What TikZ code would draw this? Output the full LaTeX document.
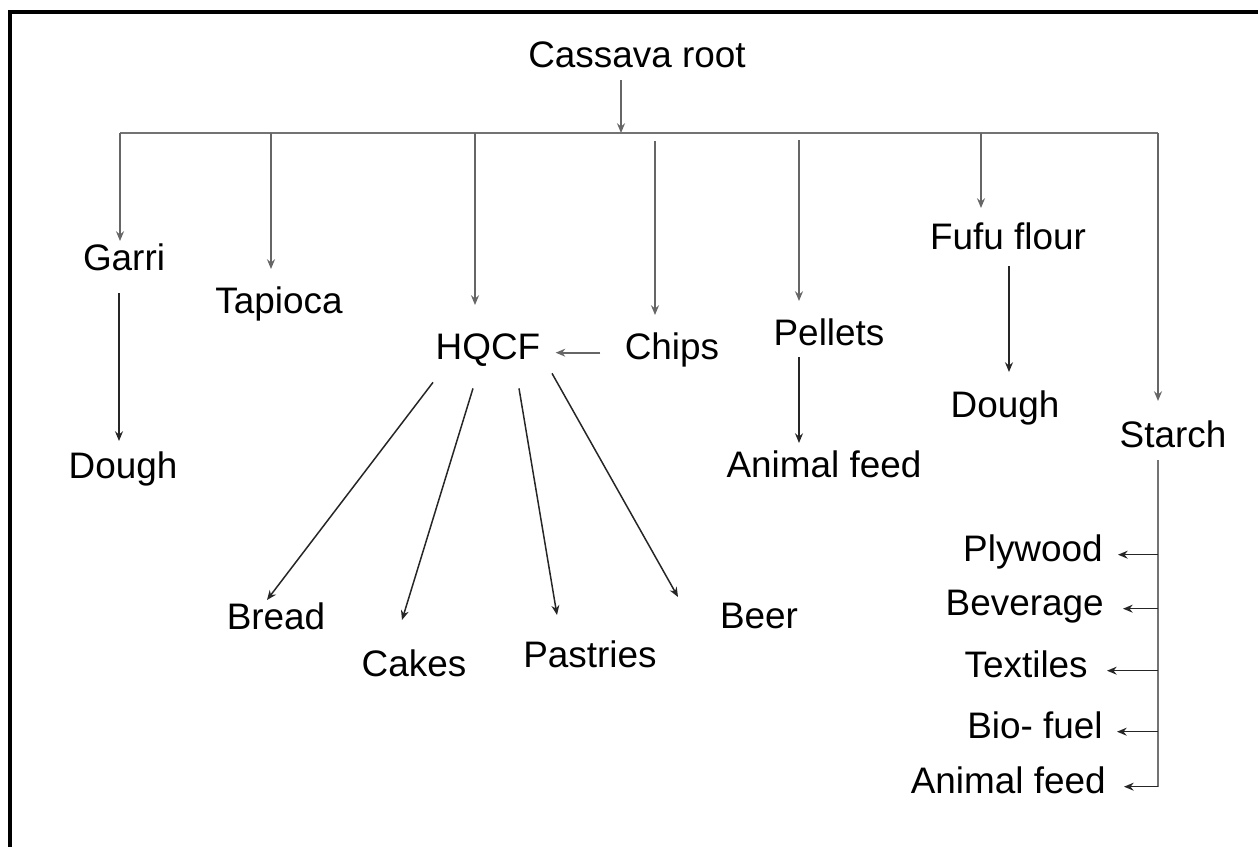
\documentclass[tikz,border=0pt]{standalone}
\usepackage{fontspec}
\setmainfont{Liberation Sans}
\usetikzlibrary{arrows.meta,positioning,calc}

\begin{document}
\begin{tikzpicture}[x=0.02cm,y=-0.02cm,
   lbl/.style={font=\fontsize{21}{25}\selectfont,inner sep=0pt,
               text height=0.72em,text depth=0pt,anchor=base},
   side/.style={lbl,anchor=base east},
   arr/.style={draw=black!85,line width=0.85pt,-{Stealth[length=5.5pt,width=4.5pt]}},
   drop/.style={arr,draw=black!60,line width=1.1pt},
   bus/.style={draw=black!55,line width=1.5pt,line join=miter}]
  \useasboundingbox (0,0) rectangle (1258,846);
  \clip (0,0) rectangle (1258,846);
  % frame, cut off on the right and at the bottom
  \draw[line width=2.1pt] (10,900) -- (10,12) -- (1300,12);

  % labels
  \node[lbl] (root) at (637,67) {Cassava root};
  \node[lbl] (garri) at (124,270) {Garri};
  \node[lbl] (tapioca) at (279,313) {Tapioca};
  \node[lbl] (hqcf) at (488,359) {HQCF};
  \node[lbl] (chips) at (672,359) {Chips};
  \node[lbl] (pellets) at (829,345) {Pellets};
  \node[lbl] (fufu) at (1008,249) {Fufu flour};
  \node[lbl] (starch) at (1173,447) {Starch};
  \node[lbl] (dough1) at (123,478) {Dough};
  \node[lbl] (feed1) at (824,477) {Animal feed};
  \node[lbl] (dough2) at (1005,417) {Dough};
  \node[lbl] (bread) at (276,629) {Bread};
  \node[lbl] (cakes) at (414,676) {Cakes};
  \node[lbl] (pastries) at (590,667) {Pastries};
  \node[lbl] (beer) at (759,628) {Beer};
  \node[side] (plywood) at (1103,561) {Plywood};
  \node[side] (beverage) at (1104,615) {Beverage};
  \node[side] (textiles) at (1088,677) {Textiles};
  \node[side] (biofuel) at (1103,738) {Bio- fuel};
  \node[side] (feed2) at (1106,793) {Animal feed};

  % bus under the root
  \coordinate (hub) at (621,133);
  \coordinate (bGarri) at (120,133);
  \coordinate (bTap) at (271,133);
  \coordinate (bHq) at (475,133);
  \coordinate (bChips) at (655,141);
  \coordinate (bPel) at (799,140);
  \coordinate (bFufu) at (981,133);
  \coordinate (bStarch) at (1158,133);

  \draw[arr,draw=black!60,line width=1.1pt] ($(root.south)+(-16,13)$) -- (hub);
  \draw[bus] (bGarri) -- (bStarch);
  \foreach \b/\n/\g in {bGarri/garri/16,bTap/tapioca/31,bHq/hqcf/41,bChips/chips/31,
                        bPel/pellets/31,bFufu/fufu/28,bStarch/starch/33}
    \draw[drop] (\b) -- ($(\b |- \n.north)+(0,-\g)$);

  % second level
  \draw[arr] ($(garri.south)+(-5,23)$) -- ($(dough1.north)+(-4,-24)$);
  \draw[drop] ($(chips.west)+(-24,0)$) -- ($(hqcf.east)+(15,0)$);
  \draw[arr] ($(pellets.south)+(-30,12)$) -- ($(feed1.north)+(-25,-21)$);
  \draw[arr] ($(fufu.south)+(1,17)$) -- ($(dough2.north)+(4,-32)$);

  % HQCF fan
  \draw[arr] ($(hqcf.south)+(-55,23)$) -- ($(bread.north)+(-9,-16)$);
  \draw[arr] ($(hqcf.south)+(-15,29)$) -- ($(cakes.north)+(-12,-43)$);
  \draw[arr] ($(hqcf.south)+(31,29)$) -- ($(pastries.north)+(-33,-39)$);
  \draw[arr] ($(hqcf.south)+(64,14)$) -- ($(beer.north)+(-81,-18)$);

  % starch uses
  \draw[bus] ($(starch.south -| bStarch)+(0,13)$) -- (bStarch |- feed2.east);
  \foreach \n/\g in {plywood/15,beverage/19,textiles/19,biofuel/14,feed2/18}
    \draw[arr] (bStarch |- \n.east) -- ($(\n.east)+(\g,0)$);
\end{tikzpicture}
\end{document}
